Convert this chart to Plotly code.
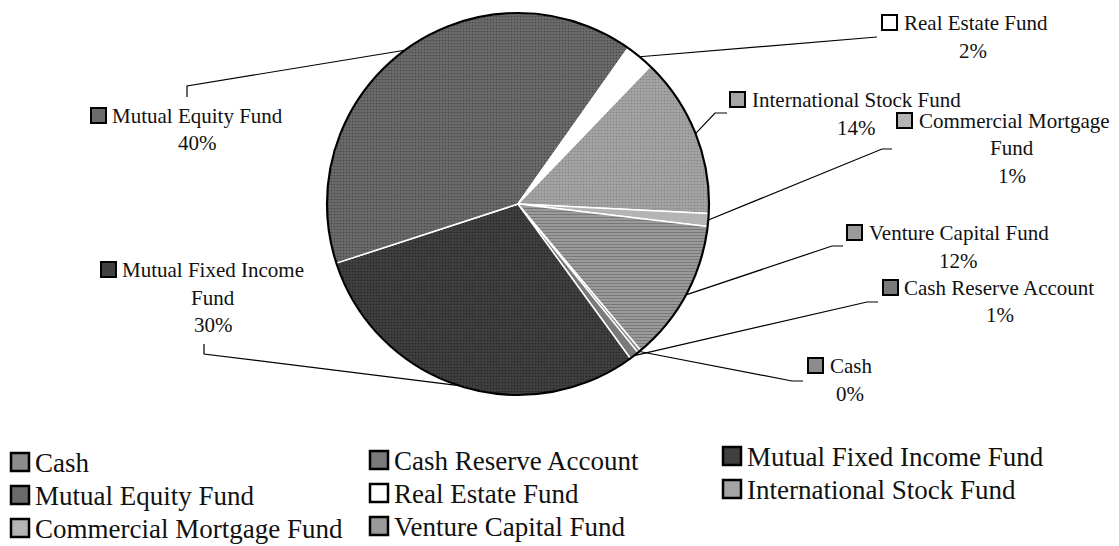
import math
import plotly.graph_objects as go

# ---------------- data ----------------
categories = [
    "Cash",
    "Cash Reserve Account",
    "Mutual Fixed Income Fund",
    "Mutual Equity Fund",
    "Real Estate Fund",
    "International Stock Fund",
    "Commercial Mortgage Fund",
    "Venture Capital Fund",
]
values = [0.3, 0.8, 30.0, 39.8, 2.4, 13.6, 1.1, 12.0]
label_wrap = {
    "Commercial Mortgage Fund": ["Commercial Mortgage", "Fund"],
    "Mutual Fixed Income Fund": ["Mutual Fixed Income", "Fund"],
}

# ---------------- styles / layout ----------------
slice_colors = ["#8c8c8c", "#7a7a7a", "#404040", "#6b6b6b",
                "#ffffff", "#a4a4a4", "#b4b4b4", "#9a9a9a"]
pattern_shapes = ["", "", ".", ".", "", ".", "", "-"]
pattern_fg = ["#555555", "#555555", "#262626", "#484848", "#ffffff", "#868686", "#888888", "#6c6c6c"]

W, H = 1119, 546
CX, CY, R = 518, 204, 191
ROTATION = 140
FONT = "Liberation Serif"
LABEL_SIZE = 21
LEGEND_SIZE = 27
LINE_GAP = 27.5


def fx(x):
    return x / W


def fy(y):
    return 1 - y / H


# data label placement (pixels): square top-left, text left, first line y,
# centre x of following lines, leader elbow and end
label_place = {
    "Cash": dict(sq=(808, 358), tx=828, y1=366, cx=850, elbow=(792, 381), end=(803, 381)),
    "Cash Reserve Account": dict(sq=(883, 280), tx=902, y1=288, cx=1000, elbow=(867, 302), end=(878, 302)),
    "Mutual Fixed Income Fund": dict(sq=(101, 262), tx=120, y1=270, cx=213, elbow=(204, 354), end=(204, 344)),
    "Mutual Equity Fund": dict(sq=(91, 108), tx=110, y1=116, cx=197, elbow=(187, 86), end=(187, 97)),
    "Real Estate Fund": dict(sq=(882, 15), tx=902, y1=23, cx=973, elbow=(877, 37), end=(877, 37)),
    "International Stock Fund": dict(sq=(730, 92), tx=750, y1=100, cx=856, elbow=(715, 113), end=(727, 113)),
    "Commercial Mortgage Fund": dict(sq=(897, 113), tx=917, y1=121, cx=1012, elbow=(882, 149), end=(892, 149)),
    "Venture Capital Fund": dict(sq=(847, 225), tx=867, y1=233, cx=958, elbow=(832, 246), end=(843, 246)),
}

legend_sq_x = [11, 370, 723]
legend_row_y = [462, 495, 528]
legend_col_dy = [0, -2, -6]

fig = go.Figure()
fig.add_trace(go.Pie(
    labels=categories,
    values=values,
    sort=False,
    direction="clockwise",
    rotation=ROTATION,
    textinfo="none",
    hoverinfo="label+percent",
    showlegend=False,
    marker=dict(
        colors=slice_colors,
        line=dict(color="white", width=1.5),
        pattern=dict(shape=pattern_shapes, fgcolor=pattern_fg, bgcolor=slice_colors,
                     size=3, solidity=0.25),
    ),
    domain=dict(x=[fx(CX - R), fx(CX + R)], y=[fy(CY + R), fy(CY - R)]),
))

shapes = []
annotations = []

# outer ring
shapes.append(dict(type="circle", xref="paper", yref="paper",
                   x0=fx(CX - R), x1=fx(CX + R), y0=fy(CY + R), y1=fy(CY - R),
                   line=dict(color="black", width=2.2)))

total = sum(values)
cum = 0.0
for cat, val, col in zip(categories, values, slice_colors):
    ang = math.radians(ROTATION + 360.0 * (cum + val / 2.0) / total)
    cum += val
    px, py = CX + R * math.sin(ang), CY - R * math.cos(ang)
    p = label_place[cat]
    ex, ey = p["elbow"]
    nx, ny = p["end"]
    path = f"M {fx(px)},{fy(py)} L {fx(ex)},{fy(ey)} L {fx(nx)},{fy(ny)}"
    shapes.append(dict(type="path", xref="paper", yref="paper", path=path,
                       line=dict(color="black", width=1.2)))
    sx, sy = p["sq"]
    shapes.append(dict(type="rect", xref="paper", yref="paper",
                       x0=fx(sx), x1=fx(sx + 15), y0=fy(sy + 15), y1=fy(sy),
                       fillcolor=col, line=dict(color="black", width=2)))
    lines = label_wrap.get(cat, [cat])
    pct = f"{round(val / total * 100)}%"
    annotations.append(dict(xref="paper", yref="paper", x=fx(p["tx"]), y=fy(p["y1"]),
                            xanchor="left", yanchor="middle", text=lines[0], showarrow=False,
                            font=dict(family=FONT, size=LABEL_SIZE, color="#111")))
    rest = lines[1:] + [pct]
    for k, t in enumerate(rest):
        annotations.append(dict(xref="paper", yref="paper", x=fx(p["cx"]),
                                y=fy(p["y1"] + LINE_GAP * (k + 1)),
                                xanchor="center", yanchor="middle", text=t, showarrow=False,
                                font=dict(family=FONT, size=LABEL_SIZE, color="#111")))

# legend (row-major, 3 columns)
for i, (cat, col) in enumerate(zip(categories, slice_colors)):
    r, c = divmod(i, 3)
    yc = legend_row_y[r] + legend_col_dy[c]
    sx = legend_sq_x[c]
    shapes.append(dict(type="rect", xref="paper", yref="paper",
                       x0=fx(sx), x1=fx(sx + 18), y0=fy(yc + 9), y1=fy(yc - 9),
                       fillcolor=col, line=dict(color="black", width=2.5)))
    annotations.append(dict(xref="paper", yref="paper", x=fx(sx + 22), y=fy(yc + 1),
                            xanchor="left", yanchor="middle", text=cat, showarrow=False,
                            font=dict(family=FONT, size=LEGEND_SIZE, color="#111")))

fig.update_layout(
    width=W, height=H,
    margin=dict(l=0, r=0, t=0, b=0),
    paper_bgcolor="white", plot_bgcolor="white",
    shapes=shapes, annotations=annotations,
    showlegend=False,
)

fig.write_html("out.html",
               config={"displayModeBar": False},
               post_script="document.body.style.margin='0';document.body.style.overflow='hidden';")
